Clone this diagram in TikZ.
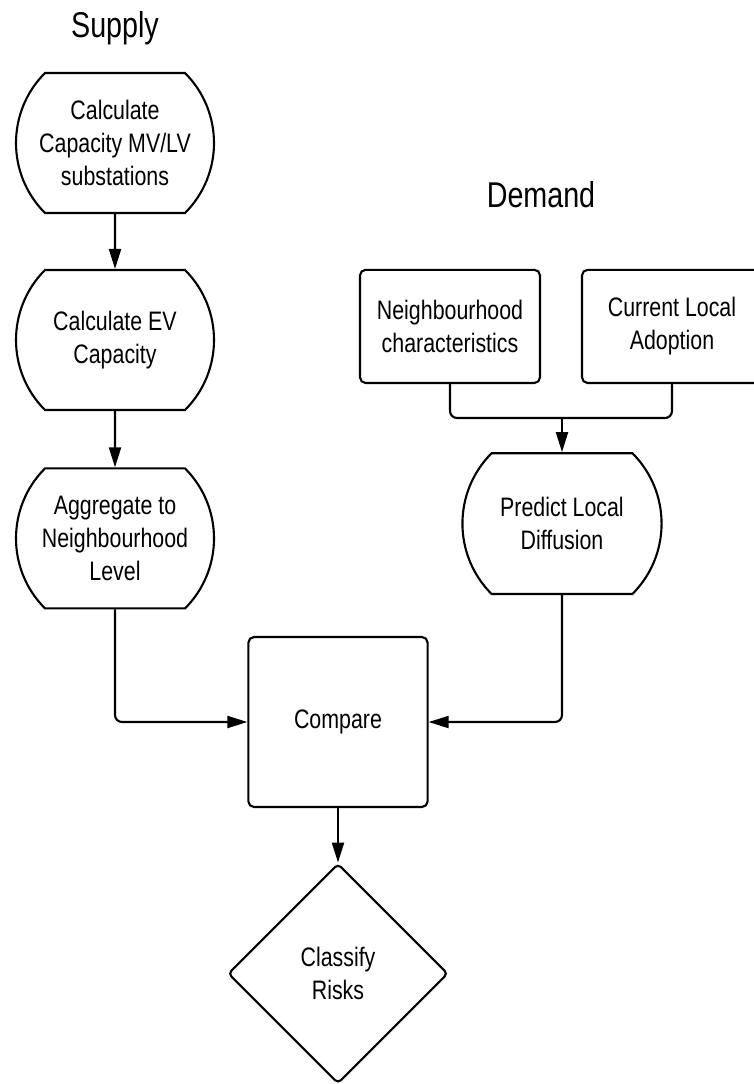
\documentclass[tikz,border=0pt]{standalone}
\usepackage{fontspec}
\setmainfont[FakeStretch=0.8]{Liberation Sans}
\usetikzlibrary{arrows.meta,shapes.geometric,shapes.misc}

\begin{document}
\begin{tikzpicture}[>={Triangle[length=5mm,width=3mm]},line width=1.5pt,font=\fontsize{19}{23.5}\selectfont]
\tikzstyle{proc}=[draw,rounded rectangle,rounded rectangle arc length=90,minimum width=5.05cm,minimum height=3.5cm,align=center,inner sep=2pt]
\tikzstyle{inp}=[draw,rectangle,rounded corners=4pt,minimum width=4.5cm,minimum height=2.83cm,align=center]
\tikzstyle{ttl}=[font=\fontsize{25.5}{30}\selectfont,anchor=base]
\useasboundingbox (0,0) rectangle (18.85,-27.1);
% supply side
\node[ttl] (supply) at (2.875,-0.925) {Supply};
\node[proc] (cap) at (2.875,-3.575) {Calculate\\ Capacity MV/LV\\ substations};
\node[proc] (ev) at (2.875,-8.5) {Calculate EV\\ Capacity};
\node[proc] (agg) at (2.875,-13.46) {Aggregate to\\ Neighbourhood\\ Level};
% demand side
\node[ttl] (demand) at (13.525,-5.175) {Demand};
\node[inp] (nbh) at (11.25,-8.16) {Neighbourhood\\ characteristics};
\node[inp] (cur) at (16.8,-8.16) {Current Local\\ Adoption};
\node[proc,minimum width=5cm,minimum height=3.52cm] (pred) at (14.05,-13.09) {Predict Local\\ Diffusion};
\coordinate (join) at (14.05,-10.45);
% result
\node[draw,rectangle,rounded corners=4pt,minimum width=4.48cm,minimum height=4.25cm] (cmp) at (8.45,-18.05) {Compare};
\node[draw,diamond,rounded corners=3pt,minimum size=5.5cm,inner sep=0pt,align=center] (risk) at (8.45,-24.34) {Classify\\ Risks};
\draw[->] (cap) -- (ev);
\draw[->] (ev) -- (agg);
\draw[rounded corners=5pt] (nbh.south) |- (join) -| (cur.south);
\draw[->] (join) -- (pred.north);
\draw[->,rounded corners=5pt] (agg.south) |- (cmp.west);
\draw[->,rounded corners=5pt] (pred.south) |- (cmp.east);
\draw[->] (cmp) -- (risk);
\end{tikzpicture}
\end{document}
